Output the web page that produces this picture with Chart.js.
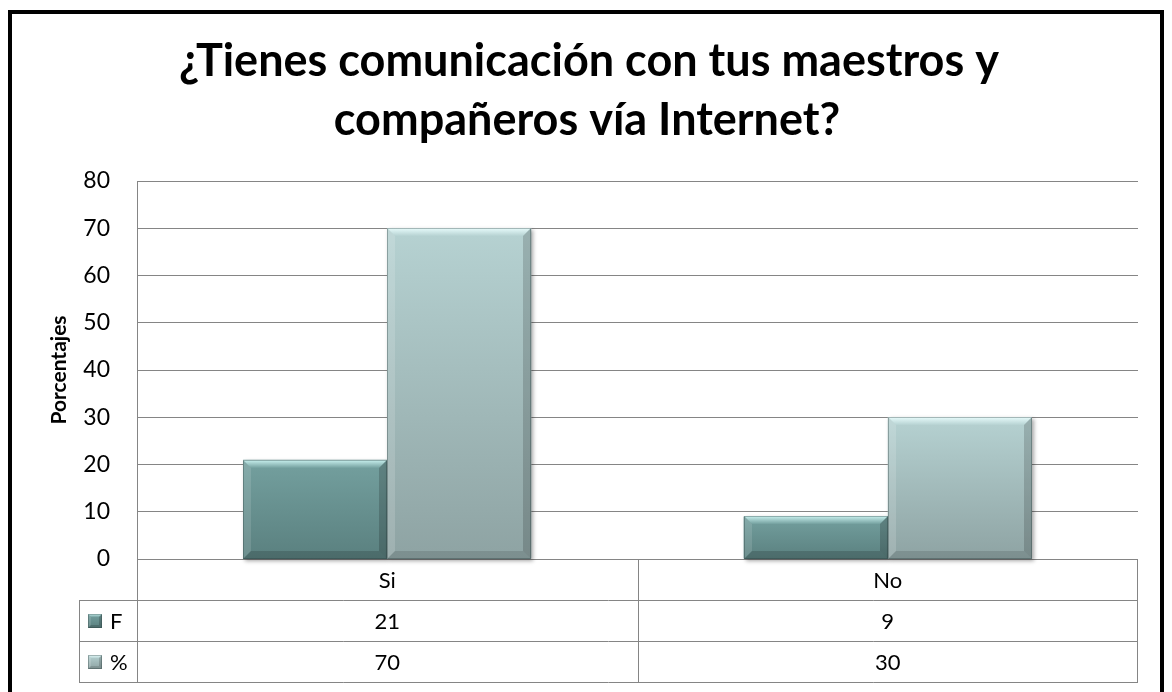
<!DOCTYPE html>
<html>
<head>
<meta charset="utf-8">
<script src="https://cdn.jsdelivr.net/npm/chart.js@4.4.1/dist/chart.umd.min.js"></script>
<style>
  html, body { margin: 0; padding: 0; background: #fff; }
  #wrap { width: 1172px; height: 692px; }
</style>
</head>
<body>
<div id="wrap"><canvas id="chart" width="1172" height="692"></canvas></div>
<script>
// data
const titleLines = ['¿Tienes comunicación con tus maestros y', 'compañeros vía Internet?'];
const categories = ['Si', 'No'];
const seriesNames = ['F', '%'];
const fValues = [21, 9];
const pctValues = [70, 30];
const yMin = 0, yMax = 80, yStep = 10;
const yLabel = 'Porcentajes';

// colours for the bevelled bars: [F, %]
const barColors = [
    { top: '#74a09f', bottom: '#5a807f', hi: '#c9f1ef', left: 'rgba(255,255,255,0.12)', right: 'rgba(0,0,0,0.18)', low: 'rgba(0,0,0,0.16)' },
    { top: '#b6d2d2', bottom: '#8ea3a3', hi: '#e8fcfc', left: 'rgba(255,255,255,0.15)', right: 'rgba(0,0,0,0.16)', low: 'rgba(0,0,0,0.12)' }
];
const lineGray = '#858585';
const font = 'Lato, "Open Sans", sans-serif';

function poly(ctx, pts, fill) {
    ctx.beginPath();
    ctx.moveTo(pts[0][0], pts[0][1]);
    for (let i = 1; i < pts.length; i++) ctx.lineTo(pts[i][0], pts[i][1]);
    ctx.closePath();
    ctx.fillStyle = fill;
    ctx.fill();
}

function bevelBox(ctx, x0, y0, x1, y1, c, b, shadow) {
    const g = ctx.createLinearGradient(0, y0, 0, y1);
    g.addColorStop(0, c.top);
    g.addColorStop(1, c.bottom);
    ctx.save();
    if (shadow) {
        ctx.shadowColor = 'rgba(0,0,0,0.35)';
        ctx.shadowBlur = 4;
        ctx.shadowOffsetX = 2;
        ctx.shadowOffsetY = 2;
    }
    ctx.fillStyle = g;
    ctx.fillRect(x0, y0, x1 - x0, y1 - y0);
    ctx.restore();
    b = Math.min(b, (x1 - x0) / 2, (y1 - y0) / 2);
    const hg = ctx.createLinearGradient(0, y0, 0, y0 + b);
    hg.addColorStop(0, c.hi);
    hg.addColorStop(1, c.top);
    poly(ctx, [[x0, y0], [x1, y0], [x1 - b, y0 + b], [x0 + b, y0 + b]], hg);
    poly(ctx, [[x0, y0], [x0 + b, y0 + b], [x0 + b, y1 - b], [x0, y1]], c.left);
    poly(ctx, [[x1, y0], [x1, y1], [x1 - b, y1 - b], [x1 - b, y0 + b]], c.right);
    poly(ctx, [[x0, y1], [x0 + b, y1 - b], [x1 - b, y1 - b], [x1, y1]], c.low);
    ctx.strokeStyle = 'rgba(40,60,60,0.35)';
    ctx.lineWidth = 1;
    ctx.strokeRect(x0 + 0.5, y0 + 0.5, x1 - x0 - 1, y1 - y0 - 1);
}

// redraw each bar with gradient + bevel, using the element geometry
const bevelPlugin = {
    id: 'bevel',
    afterDatasetsDraw(chart) {
        const ctx = chart.ctx;
        chart.data.datasets.forEach((ds, i) => {
            const meta = chart.getDatasetMeta(i);
            meta.data.forEach(bar => {
                const x0 = Math.round(bar.x - bar.width / 2);
                const x1 = Math.round(bar.x + bar.width / 2);
                bevelBox(ctx, x0, Math.round(bar.y), x1, Math.round(bar.base), barColors[i], 8, true);
            });
        });
    }
};

// title, outer frame and data table under the plot
const framePlugin = {
    id: 'frame',
    afterDraw(chart) {
        const ctx = chart.ctx;
        const x = chart.scales.x;
        const area = chart.chartArea;
        ctx.save();

        ctx.fillStyle = '#000';
        ctx.font = 'bold 45px ' + font;
        ctx.textAlign = 'center';
        ctx.textBaseline = 'alphabetic';
        ctx.fillText(titleLines[0], 589, 76);
        ctx.fillText(titleLines[1], 587, 135);

        ctx.strokeStyle = '#000';
        ctx.lineWidth = 4;
        ctx.strokeRect(10, 12, 1152, 700);

        // table
        const rowH = 41;
        const top = area.bottom;
        const legL = 79;
        const rows = [top, top + rowH, top + 2 * rowH, top + 3 * rowH];
        ctx.strokeStyle = lineGray;
        ctx.lineWidth = 1;
        ctx.beginPath();
        ctx.moveTo(area.left + 0.5, top);
        ctx.lineTo(area.left + 0.5, rows[3]);
        ctx.moveTo(area.right - 0.5, top);
        ctx.lineTo(area.right - 0.5, rows[3]);
        for (let i = 1; i < categories.length; i++) {
            const xb = Math.round((x.getPixelForValue(i - 1) + x.getPixelForValue(i)) / 2) + 0.5;
            ctx.moveTo(xb, top);
            ctx.lineTo(xb, rows[3]);
        }
        for (let r = 1; r < 4; r++) {
            ctx.moveTo(legL, rows[r] + 0.5);
            ctx.lineTo(area.right, rows[r] + 0.5);
        }
        ctx.moveTo(legL + 0.5, rows[1]);
        ctx.lineTo(legL + 0.5, rows[3]);
        ctx.stroke();

        ctx.fillStyle = '#000';
        ctx.font = '22px ' + font;
        ctx.textAlign = 'center';
        ctx.textBaseline = 'middle';
        const series = [fValues, pctValues];
        categories.forEach((cat, i) => {
            const cx = x.getPixelForValue(i);
            ctx.fillText(cat, cx, rows[0] + rowH / 2 + 1);
            series.forEach((vals, s) => {
                ctx.fillText(String(vals[i]), cx, rows[s + 1] + rowH / 2 + 1);
            });
        });
        seriesNames.forEach((name, s) => {
            const cy = rows[s + 1] + rowH / 2;
            bevelBox(ctx, 88, Math.round(cy - 7), 102, Math.round(cy + 7), barColors[s], 3, false);
            ctx.fillStyle = '#000';
            ctx.textAlign = 'left';
            ctx.fillText(name, 110, cy + 1);
        });
        ctx.restore();
    }
};

new Chart(document.getElementById('chart'), {
    type: 'bar',
    data: {
        labels: categories,
        datasets: [
            { label: seriesNames[0], data: fValues, backgroundColor: barColors[0].top },
            { label: seriesNames[1], data: pctValues, backgroundColor: barColors[1].top }
        ]
    },
    options: {
        responsive: false,
        devicePixelRatio: 1,
        animation: false,
        categoryPercentage: 0.576,
        barPercentage: 1,
        layout: { padding: { top: 181, bottom: 133, left: 0, right: 34 } },
        plugins: { legend: { display: false }, tooltip: { enabled: false }, title: { display: false } },
        scales: {
            x: { display: false },
            y: {
                min: yMin,
                max: yMax,
                afterFit: s => { s.width = 137; },
                ticks: { stepSize: yStep, padding: 27, color: '#000', font: { family: font, size: 23 } },
                grid: { color: lineGray, drawTicks: false },
                border: { display: true, color: lineGray },
                title: {
                    display: true,
                    text: yLabel,
                    color: '#000',
                    font: { family: font, size: 21, weight: 'bold' },
                    padding: { top: 47, bottom: 0 }
                }
            }
        }
    },
    plugins: [bevelPlugin, framePlugin]
});
</script>
</body>
</html>
